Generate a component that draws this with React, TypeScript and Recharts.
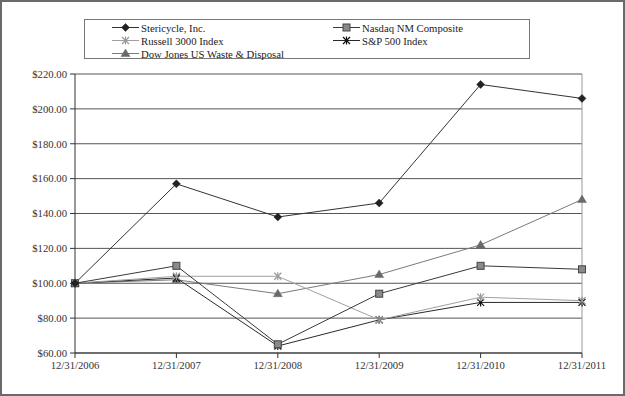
import React from 'react'
import { LineChart, Line, XAxis, YAxis, CartesianGrid, ReferenceLine } from 'recharts'

const dates = ['12/31/2006', '12/31/2007', '12/31/2008', '12/31/2009', '12/31/2010', '12/31/2011']
const stericycle = [100, 157, 138, 146, 214, 206]
const nasdaq = [100, 110, 65, 94, 110, 108]
const russell = [100, 104, 104, 79, 92, 90]
const sp500 = [100, 103, 64, 79, 89, 89]
const djWaste = [100, 102, 94, 105, 122, 148]
const yTicks = [60, 80, 100, 120, 140, 160, 180, 200, 220]

type Shape = 'diamond' | 'square' | 'star' | 'triangle'

interface Series {
  key: string
  name: string
  values: number[]
  line: string
  shape: Shape
  fill: string
  stroke: string
}

const series: Series[] = [
  { key: 'stericycle', name: 'Stericycle, Inc.', values: stericycle, line: '#333', shape: 'diamond', fill: '#222', stroke: '#222' },
  { key: 'nasdaq', name: 'Nasdaq NM Composite', values: nasdaq, line: '#3a3a3a', shape: 'square', fill: '#8a8a8a', stroke: '#444' },
  { key: 'russell', name: 'Russell 3000 Index', values: russell, line: '#a0a0a0', shape: 'star', fill: 'none', stroke: '#999' },
  { key: 'sp500', name: 'S&P 500 Index', values: sp500, line: '#2a2a2a', shape: 'star', fill: 'none', stroke: '#111' },
  { key: 'dj', name: 'Dow Jones US Waste & Disposal', values: djWaste, line: '#7a7a7a', shape: 'triangle', fill: '#6a6a6a', stroke: '#6a6a6a' },
]

const data = dates.map((date, i) => {
  const row: { [k: string]: string | number } = { date }
  series.forEach((s) => {
    row[s.key] = s.values[i]
  })
  return row
})

function Marker({ shape, cx, cy, fill, stroke }: { shape: Shape; cx: number; cy: number; fill: string; stroke: string }) {
  if (shape === 'diamond') {
    return <polygon points={`${cx},${cy - 4} ${cx + 4},${cy} ${cx},${cy + 4} ${cx - 4},${cy}`} fill={fill} stroke={stroke} strokeWidth={0.5} />
  }
  if (shape === 'square') {
    return <rect x={cx - 3.5} y={cy - 3.5} width={7} height={7} fill={fill} stroke={stroke} strokeWidth={1} />
  }
  if (shape === 'triangle') {
    return <polygon points={`${cx},${cy - 4.5} ${cx + 4.5},${cy + 3} ${cx - 4.5},${cy + 3}`} fill={fill} stroke={stroke} strokeWidth={0.5} />
  }
  return (
    <g stroke={stroke} strokeWidth={1.2}>
      <line x1={cx - 3.5} y1={cy - 3.5} x2={cx + 3.5} y2={cy + 3.5} />
      <line x1={cx + 3.5} y1={cy - 3.5} x2={cx - 3.5} y2={cy + 3.5} />
      <line x1={cx} y1={cy - 4} x2={cx} y2={cy + 4} />
    </g>
  )
}

function LegendItem({ s, left, top }: { s: Series; left: number; top: number }) {
  return (
    <div style={{ position: 'absolute', left, top, height: 13, display: 'flex', alignItems: 'center' }}>
      <svg width={28} height={13} style={{ display: 'block' }}>
        <line x1={0} y1={6.5} x2={27} y2={6.5} stroke={s.line} strokeWidth={1} />
        <Marker shape={s.shape} cx={13.5} cy={6.5} fill={s.fill} stroke={s.stroke} />
      </svg>
      <span style={{ marginLeft: 1, whiteSpace: 'nowrap' }}>{s.name}</span>
    </div>
  )
}

const font = '"Liberation Serif", "Times New Roman", serif'

export default function App() {
  const tickStyle = { fontFamily: font, fontSize: 10.7, fill: '#333' }
  return (
    <div
      style={{
        position: 'absolute',
        left: 0,
        top: 0,
        width: 625,
        height: 396,
        boxSizing: 'border-box',
        border: '2px solid #6a6a6a',
        background: '#fff',
        fontFamily: font,
        fontSize: 10.7,
        color: '#222',
      }}
    >
      <div style={{ position: 'absolute', left: -2, top: -2 }}>
        <LineChart width={625} height={396} data={data} margin={{ top: 74, right: 43, bottom: 13, left: 5 }}>
          <CartesianGrid vertical={false} stroke="#555" />
          <XAxis
            dataKey="date"
            interval={0}
            height={30}
            tick={tickStyle}
            tickSize={5}
            tickMargin={3}
            stroke="#333"
          />
          <YAxis
            domain={[60, 220]}
            ticks={yTicks}
            width={70}
            tick={tickStyle}
            tickSize={5}
            tickMargin={3}
            stroke="#333"
            tickFormatter={(v: number) => '$' + v.toFixed(2)}
          />
          <ReferenceLine x="12/31/2011" stroke="#9a9a9a" />
          {[...series].reverse().map((s) => (
            <Line
              key={s.key}
              dataKey={s.key}
              name={s.name}
              type="linear"
              stroke={s.line}
              strokeWidth={1}
              isAnimationActive={false}
              dot={(p: any) => (
                <Marker key={`${s.key}-${p.index}`} shape={s.shape} cx={p.cx} cy={p.cy} fill={s.fill} stroke={s.stroke} />
              )}
              activeDot={false}
            />
          ))}
        </LineChart>
      </div>
      <div
        style={{
          position: 'absolute',
          left: 82,
          top: 17,
          width: 446,
          height: 40,
          boxSizing: 'border-box',
          border: '1px solid #777',
        }}
      >
        {series.map((s, i) => (
          <LegendItem key={s.key} s={s} left={i % 2 === 0 ? 27 : 248} top={1 + Math.floor(i / 2) * 13} />
        ))}
      </div>
    </div>
  )
}
